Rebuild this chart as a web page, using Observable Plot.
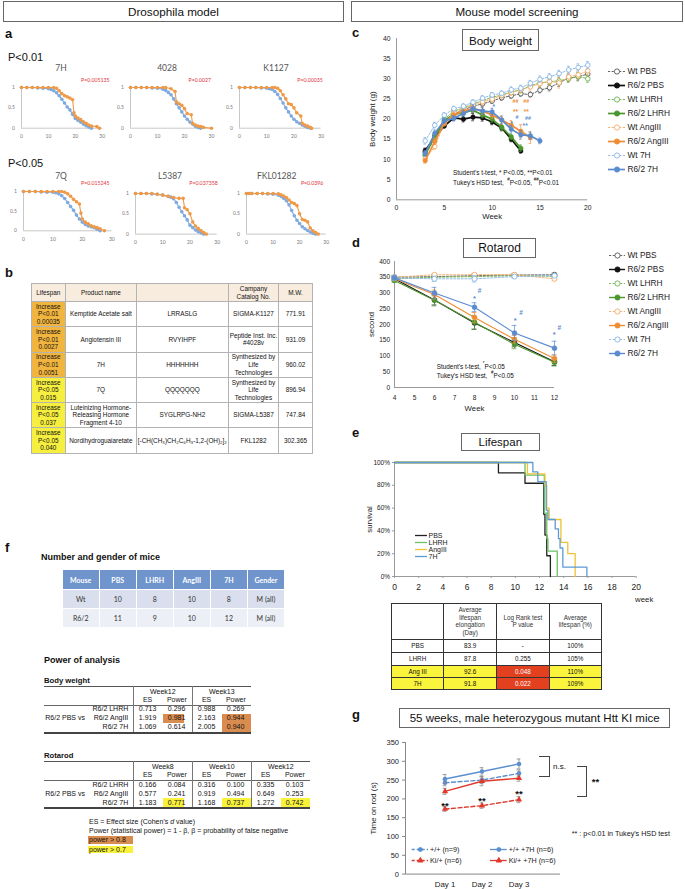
<!DOCTYPE html>
<html><head><meta charset="utf-8">
<script src="https://cdn.jsdelivr.net/npm/d3@7"></script>
<script src="https://cdn.jsdelivr.net/npm/@observablehq/plot@0.6"></script>
<style>
html,body{margin:0;padding:0;background:#fff;}
#root{position:relative;width:685px;height:889px;overflow:hidden;font-family:"Liberation Sans",Arial,sans-serif;color:#111;background:#fff;}
table{border-collapse:collapse;table-layout:fixed;position:absolute;}
td{padding:0;text-align:center;vertical-align:middle;white-space:pre-line;overflow:hidden;}
</style></head><body><div id="root"></div><script>
// ---------------- DATA ----------------
// Panel a: Drosophila survival (blue = control, orange = compound)
const flyTitles = ["7H","4028","K1127","7Q","L5387","FKL01282"];
const flyPvals = ["P=0.005135","P=0.0027","P=0.00035","P=0.015245","P=0.037358","P=0.0396"];
const flyTicksX = [0,10,20,30];
const flyTicksY = [0,0.5,1];
const fly7H_ctrlDay = [0,2,4,6,8,10,11,12,13,14,15,16,17,18,19,20,21,22,23,24,25,26];
const fly7H_ctrlSurv = [1,1,1,0.99,0.98,0.97,0.95,0.92,0.87,0.8,0.71,0.62,0.52,0.45,0.34,0.24,0.19,0.15,0.1,0.06,0.03,0];
const fly7H_drugDay = [0,2,4,6,8,10,12,13,14,15,16,17,18,19,19.5,20,21,22,23,24,25,26,28,29];
const fly7H_drugSurv = [1,1,1,1,1,1,1,0.98,0.92,0.85,0.8,0.77,0.74,0.7,0.38,0.3,0.25,0.21,0.16,0.12,0.08,0.05,0.04,0];
const fly4028_ctrlDay = [0,2,4,6,8,10,12,13,14,15,16,17,18,19,20,21,22,23,24,25,26];
const fly4028_ctrlSurv = [1,1,1,1,0.99,0.98,0.96,0.93,0.88,0.82,0.72,0.6,0.5,0.4,0.3,0.22,0.15,0.1,0.05,0.02,0];
const fly4028_drugDay = [0,2,4,6,8,10,12,13,15,16.5,17,18,19,20,21,22.5,23,24,25,26,27,30];
const fly4028_drugSurv = [1,1,1,1,1,1,1,1,0.97,0.9,0.65,0.6,0.56,0.48,0.36,0.33,0.12,0.08,0.05,0.04,0.02,0];
const flyK1127_ctrlDay = [0,2,4,6,8,10,11,12,13,14,15,16,17,18,19,20,21,22,23,24,25,26];
const flyK1127_ctrlSurv = [1,1,1,1,0.99,0.98,0.97,0.95,0.9,0.83,0.73,0.62,0.5,0.4,0.3,0.22,0.16,0.12,0.08,0.05,0.02,0];
const flyK1127_drugDay = [0,2,4,6,8,10,12,13,14,15,16,17,18,19,20,21,22.5,23,24,25,26,26.5];
const flyK1127_drugSurv = [1,1,1,1,1,1,1,1,0.98,0.92,0.82,0.72,0.6,0.58,0.5,0.38,0.3,0.12,0.08,0.05,0.02,0];
const fly7Q_ctrlDay = [0,2,4,6,8,10,11,12,13,14,15,16,17,18,19,20,21,22,23,24,25,26];
const fly7Q_ctrlSurv = [1,1,1,0.99,0.98,0.98,0.97,0.94,0.89,0.82,0.72,0.62,0.52,0.4,0.3,0.22,0.16,0.12,0.1,0.08,0.04,0];
const fly7Q_drugDay = [0,2,4,6,8,10,12,13,14,15,16,17,18,19,19.5,20,21,22,23,24,25,26,27.5];
const fly7Q_drugSurv = [1,1,1,1,1,1,1,1,0.98,0.94,0.88,0.8,0.74,0.68,0.45,0.3,0.22,0.18,0.13,0.1,0.08,0.05,0];
const flyL5387_ctrlDay = [0,2,4,6,8,10,12,13,14,15,16,17,18,19,20,21,22,23,24,25];
const flyL5387_ctrlSurv = [1,1,1,0.99,0.98,0.96,0.93,0.91,0.87,0.78,0.66,0.55,0.45,0.35,0.22,0.16,0.1,0.06,0.03,0];
const flyL5387_drugDay = [0,2,4,6,8,10,12,14,16,17.5,18,19,20,21,22,23,24,25,26];
const flyL5387_drugSurv = [1,1,1,1,0.98,0.96,0.93,0.9,0.88,0.88,0.65,0.6,0.5,0.3,0.2,0.14,0.09,0.04,0];
const flyFKL_ctrlDay = [0,1,2,4,6,8,10,12,13,14,15,16,17,18,19,20,21,22,23,24,25,26];
const flyFKL_ctrlSurv = [1,1,1,1,1,0.99,0.98,0.96,0.93,0.88,0.82,0.72,0.58,0.45,0.34,0.26,0.18,0.13,0.09,0.05,0.02,0];
const flyFKL_drugDay = [0,1,2,4,6,8,10,12,13,14,15,16,17,18,19,20,21,22,23,24,25,26,27];
const flyFKL_drugSurv = [1,1,1,1,1,1,1,0.99,0.97,0.94,0.9,0.84,0.78,0.75,0.7,0.5,0.36,0.34,0.3,0.15,0.08,0.04,0];

// Panel b table
const tbHeader = ["Lifespan","Product name","","Campany\nCatalog No.","M.W."];
const tbLifespan = ["Increase\nP<0.01\n0.00035","Increase\nP<0.01\n0.0027","Increase\nP<0.01\n0.0051","Increase\nP<0.05\n0.015","Increase\nP<0.05\n0.037","Increase\nP<0.05\n0.040"];
const tbPValue = [0.00035,0.0027,0.0051,0.015,0.037,0.040];
const tbProduct = ["Kemptide Acetate salt","Angiotensin III","7H","7Q","Luteinizing Hormone-\nReleasing Hormone\nFragment 4-10","Nordihydroguaiaretate"];
const tbSequence = ["LRRASLG","RVYIHPF","HHHHHHH","QQQQQQQ","SYGLRPG-NH2","[-CH(CH₃)CH₂C₆H₃-1,2-(OH)₂]₂"];
const tbCatalog = ["SIGMA-K1127","Peptide Inst. Inc.\n#4028v","Synthesized by\nLife Technologies","Synthesized by\nLife Technologies","SIGMA-L5387","FKL1282"];
const tbMW = ["771.91","931.09","960.02","896.94","747.84","302.365"];

// Panels c, d: mouse series
const mouseSeries = ["Wt PBS","R6/2 PBS","Wt LHRH","R6/2 LHRH","Wt AngIII","R6/2 AngIII","Wt 7H","R6/2 7H"];
const mouseColors = ["#555555","#111111","#6cb24e","#4b972f","#f4ab66","#ef8d35","#88b5e4","#5a8bcf"];
// Panel c: body weight (g)
const bwWeeks = [3,4,5,6,7,8,9,10,11,12,13,14,15,16,17,18,19,20];
const bwTicksX = [0,5,10,15,20];
const bwTicksY = [0,5,10,15,20,25,30,35,40];
const bwWtPBS = [11.8,15.8,19.3,21.3,22.3,23.2,23.8,24.5,25.3,25.8,26.3,26.1,27.2,27.8,29.0,30.2,30.5,31.2];
const bwR62PBS = [12.2,15.5,18.3,20.3,20.0,20.5,20.3,19.3,17.8,15.0,12.1];
const bwWtLHRH = [11.0,15.2,20.0,22.0,22.8,23.8,24.6,25.4,26.0,26.8,27.2,28.3,29.0,29.3,29.5,30.0,30.6,30.0];
const bwR62LHRH = [11.2,15.8,19.6,21.2,21.6,22.2,21.0,20.0,18.0,15.6,12.8];
const bwWtAngIII = [10.2,13.2,19.0,21.5,22.6,23.5,24.3,25.0,25.9,26.6,27.3,28.0,28.8,29.4,29.0,30.5,31.0,32.0];
const bwR62AngIII = [9.7,14.5,19.0,21.0,22.0,22.6,22.0,21.0,19.8,18.5,17.0,15.4];
const bwWt7H = [14.6,18.5,21.0,22.6,23.2,24.2,25.2,26.0,26.4,27.3,27.7,28.9,29.9,30.5,31.3,32.2,32.8,33.4];
const bwR627H = [11.5,16.5,19.6,20.2,21.4,22.6,22.0,21.8,19.8,17.5,16.1,15.9,14.6];
const bwWtPBSErr = [0.6,0.6,0.5,0.6,0.6,0.6,0.6,0.6,0.6,0.6,0.6,0.6,0.7,0.8,0.9,0.9,1.0,1.1];
const bwR62PBSErr = [0.6,0.6,0.5,0.6,0.7,0.9,0.8,0.7,0.7,0.6,0.5];
const bwWtLHRHErr = [0.6,0.6,0.6,0.6,0.6,0.6,0.6,0.6,0.6,0.7,0.7,0.7,0.8,0.8,0.9,0.9,0.9,0.9];
const bwR62LHRHErr = [0.6,0.7,0.6,0.6,0.7,0.7,0.7,0.8,0.8,0.7,0.8];
const bwWtAngIIIErr = [0.6,0.7,0.6,0.6,0.6,0.7,0.7,0.7,0.7,0.7,0.8,0.8,0.9,1.0,1.3,1.0,1.0,1.1];
const bwR62AngIIIErr = [0.6,0.8,0.7,0.7,0.8,0.9,0.9,0.9,1.0,1.1,1.6,1.4];
const bwWt7HErr = [0.8,0.7,0.6,0.6,0.6,0.6,0.6,0.6,0.6,0.7,0.7,0.7,0.8,0.8,0.8,0.9,0.9,0.9];
const bwR627HErr = [0.7,0.8,0.7,0.7,0.8,0.9,0.9,0.9,0.9,0.9,1.1,0.9,0.7];
const bwSigText = ["##","##","**","**","*","#","*","##","**"];
const bwSigWeek = [12.44,13.56,12.44,13.56,10.17,12.6,12.05,13.75,13.45];
const bwSigValue = [24.4,24.4,22.4,22.4,23.5,20.4,19.2,20.3,18.9];
const bwSigSeries = ["R6/2 AngIII","R6/2 AngIII","R6/2 AngIII","R6/2 AngIII","R6/2 7H","R6/2 7H","R6/2 7H","R6/2 7H","R6/2 7H"];
// Panel d: rotarod (s)
const rrWeeks = [4,6,8,10,12];
const rrTicksX = [4,5,6,7,8,9,10,11,12];
const rrTicksY = [0,50,100,150,200,250,300,350,400];
const rrWtPBS = [350,352,355,357,358];
const rrR62PBS = [345,278,205,143,82];
const rrWtLHRH = [345,350,352,355,353];
const rrR62LHRH = [340,277,207,137,80];
const rrWtAngIII = [350,358,358,358,345];
const rrR62AngIII = [345,295,222,153,92];
const rrWt7H = [348,345,345,352,355];
const rrR627H = [348,300,255,173,125];
const rrWtPBSErr = [6,5,5,5,5];
const rrR62PBSErr = [5,16,20,14,12];
const rrWtLHRHErr = [6,6,6,5,6];
const rrR62LHRHErr = [6,18,22,14,12];
const rrWtAngIIIErr = [5,4,4,4,6];
const rrR62AngIIIErr = [6,14,16,12,12];
const rrWt7HErr = [8,8,10,6,6];
const rrR627HErr = [6,18,14,24,22];
const rrSigText = ["*","#","*","#","*","#"];
const rrSigWeek = [8.0,8.25,10.03,10.33,11.99,12.24];
const rrSigValue = [288,307,219,236,173,190];

// Panel e: lifespan Kaplan-Meier
const lsGroups = ["PBS","LHRH","AngIII","7H"];
const lsColors = ["#222222","#6cc063","#f1c232","#5b9bd5"];
const lsTicksX = [0,2,4,6,8,10,12,14,16,18,20];
const lsTicksY = [0,0.2,0.4,0.6,0.8,1];
const lsPBSWeek = [0,8.6,10.8,12.35,12.45,12.6,12.9];
const lsPBSSurv = [1,0.909,0.818,0.545,0.364,0.182,0];
const lsLHRHWeek = [0,10.8,12.4,12.6,12.7,13.47];
const lsLHRHSurv = [1,0.889,0.556,0.333,0.222,0];
const lsAngIIIWeek = [0,11.0,12.45,12.6,12.8,13.77,14.34,14.95];
const lsAngIIISurv = [1,0.9,0.8,0.6,0.5,0.3,0.2,0];
const ls7HWeek = [0,11.45,11.86,12.55,12.7,13.3,13.57,13.7,13.93,15.92];
const ls7HSurv = [1,0.917,0.833,0.583,0.5,0.417,0.333,0.25,0.083,0];
const lsTblHeader = ["","Average\nlifespan\nelongation\n(Day)","Log Rank test\nP value","Average\nlifespan (%)"];
const lsTblGroup = ["PBS","LHRH","Ang III","7H"];
const lsTblElong = ["83.9","87.8","92.6","91.8"];
const lsTblP = ["-","0.255","0.048","0.022"];
const lsTblPct = ["100%","105%","110%","109%"];

// Panel f
const miceCols = ["Mouse","PBS","LHRH","AngIII","7H","Gender"];
const miceWt = ["Wt","10","8","10","8","M (all)"];
const miceR62 = ["R6/2","11","9","10","12","M (all)"];
const pwRows = ["R6/2 LHRH","R6/2 AngIII","R6/2 7H"];
const pwBwWeeks = ["Week12","Week13"];
const pwBwES = [["0.713","1.919","1.069"],["0.988","2.163","2.005"]];
const pwBwPow = [["0.296","0.981","0.614"],["0.269","0.944","0.940"]];
const pwRrWeeks = ["Week8","Week10","Week12"];
const pwRrES = [["0.166","0.577","1.183"],["0.316","0.919","1.168"],["0.335","0.649","1.272"]];
const pwRrPow = [["0.084","0.241","0.771"],["0.100","0.494","0.737"],["0.103","0.253","0.742"]];

// Panel g
const gDays = ["Day 1","Day 2","Day 3"];
const gSeries = ["+/+ (n=9)","Ki/+ (n=6)","+/+ +7H (n=6)","Ki/+ +7H (n=6)"];
const gColors = ["#5b8fd0","#e0392c","#5b8fd0","#e0392c"];
const gTicksY = [0,50,100,150,200,250,300,350];
const gWt = [243,250,268];
const gKi = [173,182,198];
const gWt7H = [253,273,293];
const gKi7H = [220,247,255];
const gWtErr = [8,9,9];
const gKiErr = [6,7,8];
const gWt7HErr = [12,10,13];
const gKi7HErr = [8,12,8];
const gSigDay = ["Day 1","Day 2","Day 3"];
const gSigValue = [188,202,220];

// ---------------- HELPERS ----------------
const root = document.getElementById("root");
const FONT = '"Liberation Sans", Arial, sans-serif';
const CAL = 'Lato, "Open Sans", sans-serif';
function el(tag, css, text){ const d=document.createElement(tag); Object.assign(d.style, css); if(text!=null) d.textContent=text; root.appendChild(d); return d; }
function txt(s,x,y,o={}){
  const a=o.anchor||"start"; const tx=a==="middle"?"-50%":a==="end"?"-100%":"0";
  const d=el("div",{position:"absolute",left:x+"px",top:y+"px",transform:`translate(${tx},-50%)`,whiteSpace:"pre",lineHeight:String(o.lh||1.1),fontSize:(o.size||7)+"px",fontWeight:o.weight||"normal",color:o.color||"#111",fontFamily:o.family||FONT});
  if(o.html) d.innerHTML=s; else d.textContent=s; return d;
}
function rect(x,y,w,h,css={}){ return el("div",Object.assign({position:"absolute",left:x+"px",top:y+"px",width:w+"px",height:h+"px",boxSizing:"border-box"},css)); }
function titleBox(s,x,y,w,h,size){ const b=rect(x,y,w,h,{border:"1px solid #666",display:"flex",alignItems:"center",justifyContent:"center",fontSize:size+"px",fontFamily:FONT,color:"#111",background:"#fff",whiteSpace:"nowrap"}); b.textContent=s; return b; }
function placePlot(p,left,top){ p.style.position="absolute"; p.style.left=left+"px"; p.style.top=top+"px"; p.style.overflow="visible"; p.style.maxWidth="none"; root.appendChild(p); return p; }
const STY=(size,fam,color)=>({fontFamily:fam||FONT,fontSize:size+"px",color:color||"#222",background:"transparent",overflow:"visible"});
function legendPlot(items,L){
  const marks=[];
  items.forEach(it=>marks.push(Plot.ruleY([it.name],{y:d=>d,x1:()=>0,x2:()=>1,stroke:it.color,strokeWidth:it.width||1.2,...(it.dash?{strokeDasharray:it.dash}:{})})));
  if(L.r>0) marks.push(Plot.dot(items,{x:()=>0.5,y:"name",r:L.r,fill:"fill",stroke:"color",strokeWidth:0.9,symbol:"symbol"}));
  marks.push(Plot.text(items,{x:()=>1,y:"name",text:"name",dx:L.gap,textAnchor:"start",fontSize:L.size,fill:"#222"}));
  const p=Plot.plot({width:L.width,height:L.height,margin:0,x:{domain:[0,1],range:[L.x0,L.x1],axis:null},y:{type:"point",padding:0,domain:items.map(d=>d.name),range:[L.y0,L.y1],axis:null},style:STY(L.size),marks});
  placePlot(p,L.left,L.top);
}

// ---------------- HEADERS ----------------
titleBox("Drosophila model",3,1,341,21,11.7);
titleBox("Mouse model screening",351,1,332,21,11.6);
[["a",5,34],["b",5,273],["c",352,33],["d",352,243],["e",352,433],["f",5,548],["g",352,715]].forEach(([s,x,y])=>txt(s,x,y,{size:13,weight:"bold"}));

// ---------------- PANEL a ----------------
const FLY_BLUE="#7faadf", FLY_OR="#ee9a48";
function flyChart(cd,cs,dd,ds,F,title,pval,titleX,titleY,pX,pY,lblPad){
  const mL=20,mR=8,mT=4,mB=14;
  const ctrl=cd.map((d,i)=>({d,s:cs[i]})), drug=dd.map((d,i)=>({d,s:ds[i]}));
  const p=Plot.plot({width:mL+(F.r-F.l)+mR,height:mT+(F.b-F.t)+mB,marginLeft:mL,marginRight:mR,marginTop:mT,marginBottom:mB,
    x:{domain:[0,30]},y:{domain:[0,1]},style:STY(5,CAL,"#666"),
    marks:[
      Plot.ruleY([0],{stroke:"#c8c8c8"}),Plot.ruleX([0],{stroke:"#c8c8c8"}),
      Plot.axisX({ticks:flyTicksX,tickSize:0,tickPadding:lblPad,fontSize:5,label:null,fill:"#777"}),
      Plot.axisY({ticks:flyTicksY,tickSize:0,tickPadding:6.5,fontSize:5,label:null,fill:"#777",tickFormat:d=>String(d)}),
      Plot.line(ctrl,{x:"d",y:"s",stroke:FLY_BLUE,strokeWidth:1.1}),
      Plot.dot(ctrl,{x:"d",y:"s",r:1.8,fill:FLY_BLUE}),
      Plot.line(drug,{x:"d",y:"s",stroke:FLY_OR,strokeWidth:1.1}),
      Plot.dot(drug,{x:"d",y:"s",r:1.8,fill:FLY_OR})
    ]});
  placePlot(p,F.l-mL,F.t-mT);
  txt(title,titleX,titleY,{size:8.5,family:CAL,color:"#555",anchor:"middle"});
  txt(pval,pX,pY,{size:5.2,family:CAL,color:"#e0343a",anchor:"end"});
}
txt("P<0.01",8,57,{size:11});
txt("P<0.05",8,163,{size:11});
flyChart(fly7H_ctrlDay,fly7H_ctrlSurv,fly7H_drugDay,fly7H_drugSurv,{l:21,r:101.7,t:87,b:127.7},flyTitles[0],flyPvals[0],61,68.5,109.5,81,6.2);
flyChart(fly4028_ctrlDay,fly4028_ctrlSurv,fly4028_drugDay,fly4028_drugSurv,{l:130,r:211,t:87,b:127.7},flyTitles[1],flyPvals[1],167,68.5,211,81,6.2);
flyChart(flyK1127_ctrlDay,flyK1127_ctrlSurv,flyK1127_drugDay,flyK1127_drugSurv,{l:239,r:320.7,t:87,b:127.7},flyTitles[2],flyPvals[2],276,68.5,322.7,81,6.2);
flyChart(fly7Q_ctrlDay,fly7Q_ctrlSurv,fly7Q_drugDay,fly7Q_drugSurv,{l:22.7,r:111,t:190.7,b:230},flyTitles[3],flyPvals[3],61,177.3,109.5,184.3,6.5);
flyChart(flyL5387_ctrlDay,flyL5387_ctrlSurv,flyL5387_drugDay,flyL5387_drugSurv,{l:135,r:216.7,t:192.7,b:233.3},flyTitles[4],flyPvals[4],170,177.3,217.7,184.3,6);
flyChart(flyFKL_ctrlDay,flyFKL_ctrlSurv,flyFKL_drugDay,flyFKL_drugSurv,{l:246,r:325.7,t:192.7,b:233.3},flyTitles[5],flyPvals[5],276.7,177.3,323.3,184.3,6);

// ---------------- PANEL b ----------------
(function(){
  const t=document.createElement("table");
  Object.assign(t.style,{left:"30.7px",top:"283px",width:"281.3px",fontFamily:FONT,fontSize:"6.4px",color:"#111"});
  const cg=document.createElement("colgroup");
  [34.3,70.7,92.3,50,34].forEach(w=>{const c=document.createElement("col");c.style.width=w+"px";cg.appendChild(c);});
  t.appendChild(cg);
  const mk=(vals,h,bgs)=>{const tr=document.createElement("tr");vals.forEach((v,i)=>{const td=document.createElement("td");td.textContent=v;Object.assign(td.style,{height:h+"px",border:"1px solid #b3b3b3",background:bgs[i]||"#fff",lineHeight:"1.2"});tr.appendChild(td);});t.appendChild(tr);};
  mk(tbHeader,17,tbHeader.map(()=>"#f8ecdf"));
  tbProduct.forEach((p,i)=>{
    const lvl=tbPValue[i]<0.01?"#f1b53f":"#f6ef3f";
    mk([tbLifespan[i],p,tbSequence[i],tbCatalog[i],tbMW[i]],24.3,[lvl]);
  });
  root.appendChild(t);
})();

// ---------------- PANEL c ----------------
titleBox("Body weight",462,29,77,22,11.6);
(function(){
  const F={l:396,r:587.3,t:37.7,b:199}; const mL=40,mR=8,mT=8,mB=26;
  const vals=[bwWtPBS,bwR62PBS,bwWtLHRH,bwR62LHRH,bwWtAngIII,bwR62AngIII,bwWt7H,bwR627H];
  const errs=[bwWtPBSErr,bwR62PBSErr,bwWtLHRHErr,bwR62LHRHErr,bwWtAngIIIErr,bwR62AngIIIErr,bwWt7HErr,bwR627HErr];
  const marks=[Plot.ruleX([0],{stroke:"#9a9a9a"}),Plot.ruleY([0],{stroke:"#9a9a9a"}),
    Plot.axisX({ticks:bwTicksX,tickSize:0,tickPadding:5,fontSize:6.8,label:null}),
    Plot.axisY({ticks:bwTicksY,tickSize:0,tickPadding:6,fontSize:6.8,label:null})];
  vals.forEach((v,i)=>{
    const col=mouseColors[i], wt=i%2===0;
    const rows=v.map((y,j)=>({w:bwWeeks[j],v:y,e:errs[i][j]}));
    marks.push(Plot.ruleX(rows,{x:"w",y1:d=>d.v-d.e,y2:d=>d.v+d.e,stroke:col,strokeWidth:0.7}));
    marks.push(Plot.ruleY(rows,{y:d=>d.v+d.e,x1:d=>d.w-0.14,x2:d=>d.w+0.14,stroke:col,strokeWidth:0.7}));
    marks.push(Plot.ruleY(rows,{y:d=>d.v-d.e,x1:d=>d.w-0.14,x2:d=>d.w+0.14,stroke:col,strokeWidth:0.7}));
    marks.push(Plot.line(rows,{x:"w",y:"v",stroke:col,strokeWidth:wt?0.9:1.7,...(wt?{strokeDasharray:"2.2,1.5"}:{})}));
    marks.push(Plot.dot(rows,{x:"w",y:"v",r:2.3,fill:wt?"#fff":col,stroke:col,strokeWidth:wt?0.9:0.4}));
  });
  const sig=bwSigText.map((s,i)=>({s,w:bwSigWeek[i],v:bwSigValue[i],c:mouseColors[mouseSeries.indexOf(bwSigSeries[i])]}));
  marks.push(Plot.text(sig.filter(d=>d.s[0]==="*"),{x:"w",y:"v",text:"s",fill:"c",fontSize:6.5,dy:2,fontWeight:"bold"}));
  marks.push(Plot.text(sig.filter(d=>d.s[0]==="#"),{x:"w",y:"v",text:"s",fill:"c",fontSize:5.3,fontWeight:"bold"}));
  marks.push(Plot.text(["Week"],{frameAnchor:"bottom",dy:17,fontSize:7.8,lineAnchor:"middle"}));
  marks.push(Plot.text(["Body weight (g)"],{frameAnchor:"left",dx:-24.3,rotate:-90,textAnchor:"middle",lineAnchor:"middle",fontSize:8}));
  const p=Plot.plot({width:mL+(F.r-F.l)+mR,height:mT+(F.b-F.t)+mB,marginLeft:mL,marginRight:mR,marginTop:mT,marginBottom:mB,
    x:{domain:[0,20]},y:{domain:[0,40]},style:STY(6.8),marks});
  placePlot(p,F.l-mL,F.t-mT);
  txt("Student's t-test, * P<0.05, **P<0.01",453,172.7,{size:6.4});
  txt("Tukey's HSD test,  <sup style='font-size:70%'>#</sup>P<0.05, <sup style='font-size:70%'>##</sup>P<0.01",453,181.5,{size:6.4,html:true});
  legendPlot(mouseSeries.map((n,i)=>({name:n,color:mouseColors[i],fill:i%2===0?"#fff":mouseColors[i],symbol:"circle",dash:i%2===0?"2.2,1.5":null,width:i%2===0?0.9:1.7})),
    {left:606,top:62,width:80,height:115,x0:2,x1:19,y0:7.3,y1:108,size:8.3,r:2.6,gap:2});
})();

// ---------------- PANEL d ----------------
titleBox("Rotarod",463,238,73,19.5,12);
(function(){
  const F={l:394.3,r:554.3,t:260.7,b:386.7}; const mL=40,mR=10,mT=8,mB=28;
  const vals=[rrWtPBS,rrR62PBS,rrWtLHRH,rrR62LHRH,rrWtAngIII,rrR62AngIII,rrWt7H,rrR627H];
  const errs=[rrWtPBSErr,rrR62PBSErr,rrWtLHRHErr,rrR62LHRHErr,rrWtAngIIIErr,rrR62AngIIIErr,rrWt7HErr,rrR627HErr];
  const marks=[Plot.ruleX([4],{stroke:"#9a9a9a"}),Plot.ruleY([0],{stroke:"#9a9a9a"}),
    Plot.axisX({ticks:rrTicksX,tickSize:0,tickPadding:7.5,fontSize:6.6,label:null}),
    Plot.axisY({ticks:rrTicksY,tickSize:0,tickPadding:4.3,fontSize:6.6,label:null})];
  vals.forEach((v,i)=>{
    const col=mouseColors[i], wt=i%2===0;
    const rows=v.map((y,j)=>({w:rrWeeks[j],v:y,e:errs[i][j]}));
    marks.push(Plot.ruleX(rows,{x:"w",y1:d=>d.v-d.e,y2:d=>d.v+d.e,stroke:col,strokeWidth:0.7}));
    marks.push(Plot.ruleY(rows,{y:d=>d.v+d.e,x1:d=>d.w-0.12,x2:d=>d.w+0.12,stroke:col,strokeWidth:0.7}));
    marks.push(Plot.ruleY(rows,{y:d=>d.v-d.e,x1:d=>d.w-0.12,x2:d=>d.w+0.12,stroke:col,strokeWidth:0.7}));
    marks.push(Plot.line(rows,{x:"w",y:"v",stroke:col,strokeWidth:wt?0.9:1.1,...(wt?{strokeDasharray:"2.2,1.5"}:{})}));
    marks.push(Plot.dot(rows,{x:"w",y:"v",r:2.5,fill:wt?"#fff":col,stroke:col,strokeWidth:wt?0.9:0.4}));
  });
  const sig=rrSigText.map((s,i)=>({s,w:rrSigWeek[i],v:rrSigValue[i]}));
  marks.push(Plot.text(sig.filter(d=>d.s==="*"),{x:"w",y:"v",text:"s",fill:mouseColors[7],fontSize:7.5,dy:2,fontWeight:"bold"}));
  marks.push(Plot.text(sig.filter(d=>d.s==="#"),{x:"w",y:"v",text:"s",fill:mouseColors[7],fontSize:6.5,fontWeight:"bold"}));
  marks.push(Plot.text(["Week"],{frameAnchor:"bottom",dy:21.3,fontSize:7.8,lineAnchor:"middle"}));
  marks.push(Plot.text(["second"],{frameAnchor:"left",dx:-22.6,rotate:-90,textAnchor:"middle",lineAnchor:"middle",fontSize:7.8}));
  const p=Plot.plot({width:mL+(F.r-F.l)+mR,height:mT+(F.b-F.t)+mB,marginLeft:mL,marginRight:mR,marginTop:mT,marginBottom:mB,
    x:{domain:[4,12]},y:{domain:[0,400]},style:STY(6.6),marks});
  placePlot(p,F.l-mL,F.t-mT);
  txt("Student's t-test, <sup style='font-size:70%'>*</sup>P<0.05",436.7,366,{size:6.4,html:true});
  txt("Tukey's HSD test,  <sup style='font-size:70%'>#</sup>P<0.05",436.7,374.5,{size:6.4,html:true});
  legendPlot(mouseSeries.map((n,i)=>({name:n,color:mouseColors[i],fill:i%2===0?"#fff":mouseColors[i],symbol:"circle",dash:i%2===0?"2.2,1.5":null,width:i%2===0?0.9:1.4})),
    {left:606,top:248,width:80,height:112,x0:3,x1:19,y0:6,y1:106,size:8.3,r:2.6,gap:2});
})();

// ---------------- PANEL e ----------------
titleBox("Lifespan",461,432.7,78.6,18.5,11.5);
(function(){
  const F={l:394.3,r:636,t:462,b:576}; const mL=40,mR=30,mT=8,mB=30;
  const wk=[lsPBSWeek,lsLHRHWeek,lsAngIIIWeek,ls7HWeek], sv=[lsPBSSurv,lsLHRHSurv,lsAngIIISurv,ls7HSurv];
  const marks=[Plot.ruleX([0],{stroke:"#9a9a9a"}),Plot.ruleY([0],{stroke:"#9a9a9a"}),
    Plot.axisX({ticks:lsTicksX,tickSize:2,tickPadding:5.5,fontSize:8.5,label:null,stroke:"#9a9a9a"}),
    Plot.axisY({ticks:lsTicksY,tickSize:2,tickPadding:2.5,fontSize:6.5,label:null,tickFormat:d3.format(".0%"),stroke:"#9a9a9a"})];
  lsGroups.forEach((g,i)=>{
    const rows=wk[i].map((t,j)=>({t,s:sv[i][j]}));
    marks.push(Plot.line(rows,{x:"t",y:"s",curve:"step-after",stroke:lsColors[i],strokeWidth:1.3}));
  });
  marks.push(Plot.text(["survival"],{frameAnchor:"left",dx:-25.3,rotate:-90,textAnchor:"middle",lineAnchor:"middle",fontSize:7.8}));
  marks.push(Plot.text(["week"],{frameAnchor:"bottom-right",dx:8,dy:23,textAnchor:"middle",lineAnchor:"middle",fontSize:7.8}));
  const p=Plot.plot({width:mL+(F.r-F.l)+mR,height:mT+(F.b-F.t)+mB,marginLeft:mL,marginRight:mR,marginTop:mT,marginBottom:mB,
    x:{domain:[0,20]},y:{domain:[0,1]},style:STY(7),marks});
  placePlot(p,F.l-mL,F.t-mT);
  legendPlot(lsGroups.map((n,i)=>({name:n,color:lsColors[i],fill:lsColors[i],symbol:"circle",dash:null,width:1.3})),
    {left:410,top:528,width:60,height:36,x0:5,x1:17,y0:6.3,y1:29.3,size:7,r:0,gap:1});
  const t=document.createElement("table");
  Object.assign(t.style,{left:"391px",top:"602.7px",width:"210px",fontFamily:FONT,fontSize:"6.3px",color:"#111"});
  const cg=document.createElement("colgroup");
  [52.3,52.7,52.7,52.3].forEach(w=>{const c=document.createElement("col");c.style.width=w+"px";cg.appendChild(c);});
  t.appendChild(cg);
  const mk=(vals,h,bgs,fgs)=>{const tr=document.createElement("tr");vals.forEach((v,i)=>{const td=document.createElement("td");td.textContent=v;Object.assign(td.style,{height:h+"px",border:"1px solid #333",background:bgs[i],color:fgs[i],lineHeight:"1.2"});tr.appendChild(td);});t.appendChild(tr);};
  mk(lsTblHeader,35,["#fff","#fff","#fff","#fff"],["#333","#333","#333","#333"]);
  const hs=[12.7,11.5,11.5,10.5];
  lsTblGroup.forEach((g,i)=>{
    const sigP=parseFloat(lsTblP[i])<0.05;
    const bg=sigP?"#fbf43c":"#fff";
    mk([g,lsTblElong[i],lsTblP[i],lsTblPct[i]],hs[i],[bg,bg,sigP?"#e2401f":bg,bg],["#111","#111",sigP?"#fff":"#111","#111"]);
  });
  root.appendChild(t);
})();

// ---------------- PANEL f ----------------
txt("Number and gender of mice",41,558.3,{size:9,weight:"bold"});
(function(){
  const t=document.createElement("table");
  Object.assign(t.style,{left:"61.7px",top:"569.3px",width:"222.3px",fontFamily:CAL,fontSize:"7px",color:"#333"});
  const cg=document.createElement("colgroup");
  miceCols.forEach(()=>{const c=document.createElement("col");c.style.width="37.05px";cg.appendChild(c);});
  t.appendChild(cg);
  const mk=(vals,h,bg,fg,bold)=>{const tr=document.createElement("tr");vals.forEach(v=>{const td=document.createElement("td");td.textContent=v;Object.assign(td.style,{height:h+"px",border:"1px solid #fff",background:bg,color:fg,fontWeight:bold?"bold":"normal"});tr.appendChild(td);});t.appendChild(tr);};
  mk(miceCols,18.7,"#7094cc","#fff",true);
  mk(miceWt,18.3,"#d9dfec","#333",false);
  mk(miceR62,17.4,"#eceff6","#333",false);
  root.appendChild(t);
})();
txt("Power of analysis",44,661,{size:9,weight:"bold"});
const HI_OR="#d98c50", HI_YE="#f8f23c";
function powerTable(title,titleY,top,weeks,ES,POW){
  const L=44, secs=[133.3,192.3,251.3,310.3].slice(0,weeks.length+1), R=secs[secs.length-1]-0.3;
  txt(title,44,titleY,{size:7.7,weight:"bold"});
  const hdrLine=top+18.7, rowsY=[top+23.3,top+32.3,top+41.3], bot=top+46;
  weeks.forEach((w,k)=>{
    POW[k].forEach((v,r)=>{
      const n=parseFloat(v); if(n<=0.7) return;
      const x0=secs[k]+29.4, x1=k===0?secs[k]+50.5:secs[k+1]-0.6;
      rect(x0,rowsY[r]-4.5,x1-x0,9.1,{background:n>0.8?HI_OR:HI_YE});
    });
  });
  rect(L,top,R-L,1.2,{background:"#555"});
  rect(L,hdrLine,R-L,0.9,{background:"#666"});
  rect(L,bot,R-L,1.6,{background:"#444"});
  secs.slice(0,weeks.length).forEach(x=>rect(x,top,0.9,bot-top,{background:"#777"}));
  weeks.forEach((w,k)=>{
    const s=secs[k], e=secs[k+1];
    txt(w,(s+e)/2,top+5.5,{size:7,anchor:"middle"});
    txt("ES",s+14.3,top+14,{size:7,anchor:"middle"});
    txt("Power",s+43.5,top+14,{size:7,anchor:"middle"});
    ES[k].forEach((v,r)=>txt(v,s+14.3,rowsY[r],{size:7,anchor:"middle"}));
    POW[k].forEach((v,r)=>txt(v,s+43.3,rowsY[r],{size:7,anchor:"middle"}));
  });
  pwRows.forEach((r,i)=>txt(r,128.3,rowsY[i],{size:7,anchor:"end"}));
  txt("R6/2 PBS vs",45.3,rowsY[1],{size:7});
}
powerTable("Body weight",681,686,pwBwWeeks,pwBwES,pwBwPow);
powerTable("Rotarod",756,761.3,pwRrWeeks,pwRrES,pwRrPow);
txt("ES = Effect size (Cohen's <i>d</i> value)",89,821.7,{size:7,html:true});
txt("Power (statistical power) = 1 - β, β = probability of false negative",89,830.7,{size:7});
rect(88,836,45,7.6,{background:HI_OR}); txt("power > 0.8",89,839.8,{size:7});
rect(88,845.7,45,7.6,{background:HI_YE}); txt("power > 0.7",89,849.5,{size:7});

// ---------------- PANEL g ----------------
titleBox("55 weeks, male heterozygous mutant Htt KI mice",399.3,708.3,270.7,19.5,11.5);
(function(){
  const F={l:405,r:560,t:741.7,b:873.3}; const mL=45,mR=5,mT=7,mB=16; const left=F.l-mL;
  const vals=[gWt,gKi,gWt7H,gKi7H], errs=[gWtErr,gKiErr,gWt7HErr,gKi7HErr];
  const marks=[
    Plot.axisX({tickSize:0,tickPadding:7,fontSize:7.9,label:null}),
    Plot.axisY({ticks:gTicksY,tickSize:3,tickPadding:3.5,fontSize:7.5,label:null,stroke:"#888"}),
    Plot.ruleY([0],{stroke:"#888"})];
  vals.forEach((v,i)=>{
    const col=gColors[i], dash=i<2, sym=(i%2===0)?"circle":"triangle";
    const rows=v.map((y,j)=>({d:gDays[j],v:y,e:errs[i][j]}));
    marks.push(Plot.ruleX(rows,{x:"d",y1:r=>r.v-r.e,y2:r=>r.v+r.e,stroke:"#888",strokeWidth:0.8}));
    marks.push(Plot.tickY(rows,{x:"d",y:r=>r.v+r.e,stroke:"#888",strokeWidth:0.8,insetLeft:16.6,insetRight:16.6}));
    marks.push(Plot.tickY(rows,{x:"d",y:r=>r.v-r.e,stroke:"#888",strokeWidth:0.8,insetLeft:16.6,insetRight:16.6}));
    marks.push(Plot.line(rows,{x:"d",y:"v",stroke:col,strokeWidth:1.4,...(dash?{strokeDasharray:"4,2.5"}:{})}));
    marks.push(Plot.dot(rows,{x:"d",y:"v",r:2.3,fill:col,symbol:sym}));
  });
  const sig=gSigDay.map((d,i)=>({d,v:gSigValue[i]}));
  marks.push(Plot.text(sig,{x:"d",y:"v",text:()=>"**",fontSize:9.5,fontWeight:"bold",dy:2.5,fill:"#111"}));
  marks.push(Plot.text(["Time on rod (s)"],{frameAnchor:"left",dx:-32,rotate:-90,textAnchor:"middle",lineAnchor:"middle",fontSize:7.8}));
  const p=Plot.plot({width:mL+(F.r-F.l)+mR,height:mT+(F.b-F.t)+mB,marginLeft:mL,marginRight:mR,marginTop:mT,marginBottom:mB,
    x:{type:"band",domain:gDays,range:[444-18.6-left,518.3+18.6-left],padding:0},y:{domain:[0,350]},style:STY(7.5),marks});
  placePlot(p,left,F.t-mT);
  rect(F.l,F.t,0.9,F.b-F.t+0.5,{background:"#888"});
  rect(539,756,11,20.7,{borderTop:"1px solid #444",borderRight:"1px solid #444",borderBottom:"1px solid #444"});
  txt("n.s.",553,766.7,{size:8});
  rect(577.3,766,9.4,30.7,{borderTop:"1px solid #444",borderRight:"1px solid #444",borderBottom:"1px solid #444"});
  txt("**",591.7,781.5,{size:9.5,weight:"bold"});
  txt("** : p<0.01 in Tukey's HSD test",571.7,834,{size:7.2});
  const items=gSeries.map((n,i)=>({name:n,color:gColors[i],fill:gColors[i],symbol:(i%2===0)?"circle":"triangle",dash:i<2?"3,2":null,width:1.3}));
  legendPlot(items.slice(0,2),{left:405,top:842,width:80,height:24,x0:6.7,x1:23,y0:6.3,y1:18,size:7.2,r:2,gap:1.5});
  legendPlot(items.slice(2),{left:484,top:842,width:90,height:24,x0:6,x1:22.7,y0:6.3,y1:18,size:7.2,r:2,gap:1.5});
})();
</script></body></html>
